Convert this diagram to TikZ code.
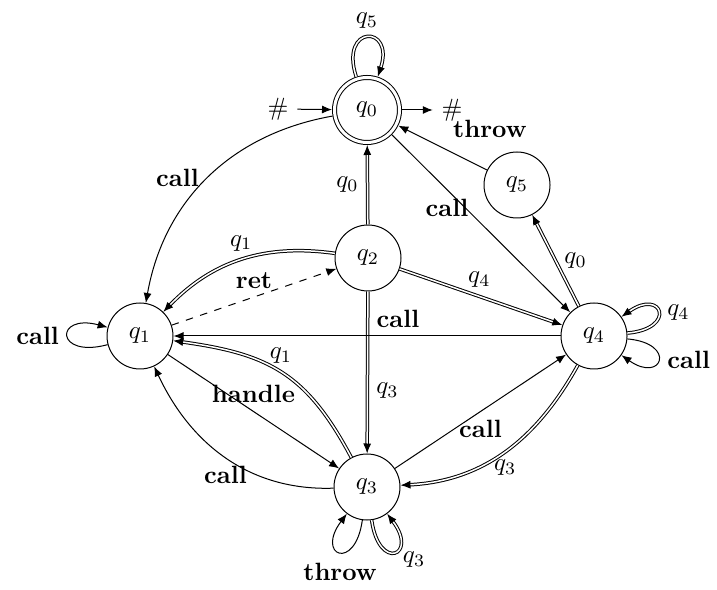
\documentclass[tikz,border=0pt]{standalone}
\usetikzlibrary{arrows.meta}
\begin{document}
\begin{tikzpicture}[x=0.4pt,y=-0.4pt,
  >={Latex[length=4pt,width=3.2pt]},
  state/.style={circle,draw,minimum size=26.4pt,inner sep=0pt},
  accept/.style={state,double,double distance=1.2pt,minimum size=26pt,outer sep=1pt},
  edge/.style={->},
  dbl/.style={->,double},
]
\useasboundingbox (0,0) rectangle (717,590);

% states
\node[accept] (q0) at (367,110) {$q_0$};
\node[state] (q1) at (140,336) {$q_1$};
\node[state] (q2) at (368,258) {$q_2$};
\node[state] (q3) at (367,487) {$q_3$};
\node[state] (q4) at (594,336) {$q_4$};
\node[state] (q5) at (517,185) {$q_5$};

% entry and exit markers
\node (hin) at (278,109) {$\#$};
\node (hout) at (452,110) {$\#$};
\draw[edge] (hin) -- (q0);
\draw[edge] (q0) -- (hout);

% transitions
\draw[dbl] (q0) to[out=108,in=72,distance=22pt] node[above]{$q_5$} (q0);
\draw[edge] (q0) to[out=190,in=80] node[left]{\textbf{call}} (q1);
\draw[edge] (q0) -- node[pos=0.36,shift={(-9,9)}]{\textbf{call}} (q4);
\draw[edge] (q5) -- node[pos=0.16,shift={(17,-34)}]{\textbf{throw}} (q0);
\draw[dbl] (q2) -- node[left]{$q_0$} (q0);
\draw[dbl] (q2) to[out=172,in=46] node[above]{$q_1$} (q1);
\draw[edge,dashed] (q1) -- node[above]{\textbf{ret}} (q2);
\draw[dbl] (q2) -- node[pos=0.49,above]{$q_4$} (q4);
\draw[dbl] (q2) -- node[pos=0.61,right]{$q_3$} (q3);
\draw[edge] (q4) -- node[pos=0.42,above]{\textbf{call}} (q1);
\draw[dbl] (q3) to[out=118,in=-8,looseness=1.15] node[above]{$q_1$} (q1);
\draw[edge] (q1) -- node[above]{\textbf{handle}} (q3);
\draw[edge] (q3) to[out=182,in=295] node[below]{\textbf{call}} (q1);
\draw[edge] (q3) -- node[below]{\textbf{call}} (q4);
\draw[dbl] (q4) to[out=241,in=3] node[below]{$q_3$} (q3);
\draw[dbl] (q4) -- node[right]{$q_0$} (q5);

% self loops
\draw[dbl] (q4) to[out=5,in=35,distance=20pt] node[right]{$q_4$} (q4);
\draw[edge] (q4) to[out=-5,in=-35,distance=20pt] node[right]{\textbf{call}} (q4);
\draw[edge] (q3) to[out=-98,in=-127,distance=21pt] node[below,yshift=-1pt]{\textbf{throw}} (q3);
\draw[dbl] (q3) to[out=-82,in=-53,distance=21pt] node[right,yshift=-3pt]{$q_3$} (q3);
\draw[edge] (q1) to[out=195,in=165,distance=22pt] node[left]{\textbf{call}} (q1);
\end{tikzpicture}
\end{document}
